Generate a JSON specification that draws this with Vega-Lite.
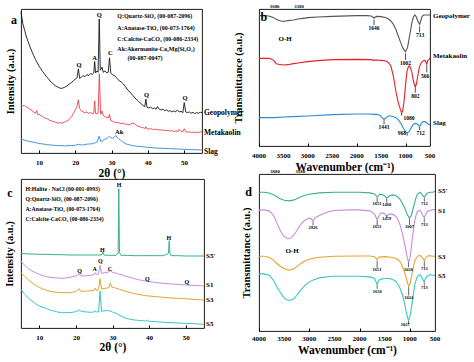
{
"$schema": "https://vega.github.io/schema/vega-lite/v6.json",
"padding": {"left": 3, "top": 3, "right": 0, "bottom": 0},
"background": "white",
"config": {
 "view": {"stroke": "#000", "strokeWidth": 0.9},
 "font": "Liberation Serif",
 "axis": {"grid": false, "domain": false, "tickColor": "#000", "labelColor": "#000", "titleColor": "#000", "labelFont": "Liberation Serif", "titleFont": "Liberation Serif", "labelFontWeight": "bold", "titleFontWeight": "bold", "labelFontSize": 7, "titleFontSize": 11, "labelAngle": 0, "labelFlush": false, "labelOverlap": false},
 "text": {"font": "Liberation Serif", "fontWeight": "bold", "color": "#000"}
},
"datasets": {
 "a": [
{"s":"G","x":5,"y":420},{"s":"G","x":5.5,"y":385},{"s":"G","x":6,"y":365},{"s":"G","x":6.5,"y":345},{"s":"G","x":7,"y":330},{"s":"G","x":7.5,"y":315},{"s":"G","x":8,"y":302},{"s":"G","x":8.5,"y":290},{"s":"G","x":9,"y":278},{"s":"G","x":9.5,"y":268},{"s":"G","x":10,"y":258},{"s":"G","x":10.5,"y":250},{"s":"G","x":11,"y":242},{"s":"G","x":11.5,"y":235},{"s":"G","x":12,"y":227},{"s":"G","x":12.5,"y":222},{"s":"G","x":13,"y":214},{"s":"G","x":13.5,"y":210},{"s":"G","x":14,"y":204},{"s":"G","x":14.5,"y":200},{"s":"G","x":15,"y":197},{"s":"G","x":15.5,"y":194},{"s":"G","x":16,"y":192},{"s":"G","x":16.5,"y":193},{"s":"G","x":17,"y":195},{"s":"G","x":17.5,"y":198},{"s":"G","x":18,"y":202},{"s":"G","x":18.5,"y":206},{"s":"G","x":19,"y":210},{"s":"G","x":19.5,"y":215},{"s":"G","x":20,"y":220},{"s":"G","x":20.5,"y":224},{"s":"G","x":20.85,"y":250},{"s":"G","x":21.2,"y":222},{"s":"G","x":21.7,"y":226},{"s":"G","x":22.2,"y":230},{"s":"G","x":22.7,"y":227},{"s":"G","x":23.2,"y":233},{"s":"G","x":23.7,"y":230},{"s":"G","x":24.2,"y":236},{"s":"G","x":24.7,"y":234},{"s":"G","x":25.1,"y":238},{"s":"G","x":25.35,"y":272},{"s":"G","x":25.6,"y":238},{"s":"G","x":26,"y":244},{"s":"G","x":26.3,"y":240},{"s":"G","x":26.62,"y":398},{"s":"G","x":26.9,"y":246},{"s":"G","x":27.4,"y":255},{"s":"G","x":27.7,"y":240},{"s":"G","x":28.2,"y":244},{"s":"G","x":28.7,"y":238},{"s":"G","x":29.1,"y":240},{"s":"G","x":29.45,"y":283},{"s":"G","x":29.8,"y":238},{"s":"G","x":30.3,"y":232},{"s":"G","x":30.8,"y":230},{"s":"G","x":31.3,"y":225},{"s":"G","x":31.8,"y":218},{"s":"G","x":32.3,"y":214},{"s":"G","x":32.8,"y":210},{"s":"G","x":33.3,"y":205},{"s":"G","x":33.8,"y":198},{"s":"G","x":34.3,"y":190},{"s":"G","x":34.8,"y":184},{"s":"G","x":35.3,"y":178},{"s":"G","x":35.8,"y":172},{"s":"G","x":36.3,"y":166},{"s":"G","x":36.8,"y":160},{"s":"G","x":37.3,"y":156},{"s":"G","x":37.8,"y":150},{"s":"G","x":38.3,"y":146},{"s":"G","x":38.8,"y":140},{"s":"G","x":39.2,"y":138},{"s":"G","x":39.5,"y":160},{"s":"G","x":39.8,"y":136},{"s":"G","x":40.3,"y":134},{"s":"G","x":40.8,"y":136},{"s":"G","x":41.3,"y":132},{"s":"G","x":41.8,"y":134},{"s":"G","x":42.3,"y":130},{"s":"G","x":42.7,"y":138},{"s":"G","x":43.2,"y":130},{"s":"G","x":43.7,"y":128},{"s":"G","x":44.2,"y":130},{"s":"G","x":44.7,"y":126},{"s":"G","x":45.2,"y":128},{"s":"G","x":45.7,"y":124},{"s":"G","x":46.2,"y":126},{"s":"G","x":46.7,"y":122},{"s":"G","x":47.2,"y":125},{"s":"G","x":47.7,"y":122},{"s":"G","x":48.2,"y":128},{"s":"G","x":48.7,"y":122},{"s":"G","x":49.2,"y":124},{"s":"G","x":49.7,"y":120},{"s":"G","x":50.1,"y":150},{"s":"G","x":50.5,"y":122},{"s":"G","x":51,"y":120},{"s":"G","x":51.5,"y":122},{"s":"G","x":52,"y":118},{"s":"G","x":52.5,"y":121},{"s":"G","x":53,"y":117},{"s":"G","x":53.5,"y":120},{"s":"G","x":54,"y":118},{"s":"G","x":54.5,"y":121},{"s":"G","x":55,"y":120},
{"s":"M","x":5,"y":142},{"s":"M","x":5.5,"y":140},{"s":"M","x":6,"y":141},{"s":"M","x":6.5,"y":137},{"s":"M","x":7,"y":134},{"s":"M","x":7.5,"y":130},{"s":"M","x":8,"y":126},{"s":"M","x":8.5,"y":122},{"s":"M","x":9,"y":118},{"s":"M","x":9.3,"y":126},{"s":"M","x":9.7,"y":114},{"s":"M","x":10,"y":115},{"s":"M","x":10.5,"y":111},{"s":"M","x":11,"y":108},{"s":"M","x":11.5,"y":104},{"s":"M","x":12,"y":103},{"s":"M","x":12.5,"y":100},{"s":"M","x":13,"y":97},{"s":"M","x":13.5,"y":95},{"s":"M","x":14,"y":93},{"s":"M","x":14.5,"y":92},{"s":"M","x":15,"y":90},{"s":"M","x":15.5,"y":89},{"s":"M","x":16,"y":90},{"s":"M","x":16.5,"y":89},{"s":"M","x":17,"y":92},{"s":"M","x":17.5,"y":94},{"s":"M","x":18,"y":97},{"s":"M","x":18.5,"y":102},{"s":"M","x":19,"y":108},{"s":"M","x":19.5,"y":118},{"s":"M","x":20,"y":128},{"s":"M","x":20.4,"y":135},{"s":"M","x":20.85,"y":158},{"s":"M","x":21.2,"y":132},{"s":"M","x":21.7,"y":125},{"s":"M","x":22.2,"y":122},{"s":"M","x":22.7,"y":120},{"s":"M","x":23.2,"y":122},{"s":"M","x":23.7,"y":118},{"s":"M","x":24.2,"y":120},{"s":"M","x":24.7,"y":117},{"s":"M","x":25.1,"y":118},{"s":"M","x":25.35,"y":155},{"s":"M","x":25.6,"y":118},{"s":"M","x":26,"y":116},{"s":"M","x":26.3,"y":118},{"s":"M","x":26.65,"y":235},{"s":"M","x":27,"y":115},{"s":"M","x":27.4,"y":125},{"s":"M","x":27.7,"y":112},{"s":"M","x":28.2,"y":108},{"s":"M","x":28.7,"y":106},{"s":"M","x":29.1,"y":104},{"s":"M","x":29.45,"y":115},{"s":"M","x":29.8,"y":96},{"s":"M","x":30.3,"y":94},{"s":"M","x":30.8,"y":92},{"s":"M","x":31.3,"y":90},{"s":"M","x":31.8,"y":91},{"s":"M","x":32.3,"y":88},{"s":"M","x":32.8,"y":87},{"s":"M","x":33.3,"y":89},{"s":"M","x":33.8,"y":85},{"s":"M","x":34.3,"y":86},{"s":"M","x":34.8,"y":84},{"s":"M","x":35.3,"y":86},{"s":"M","x":35.8,"y":89},{"s":"M","x":36.3,"y":87},{"s":"M","x":36.8,"y":83},{"s":"M","x":37.3,"y":80},{"s":"M","x":37.8,"y":78},{"s":"M","x":38.3,"y":76},{"s":"M","x":38.8,"y":75},{"s":"M","x":39.3,"y":73},{"s":"M","x":39.5,"y":78},{"s":"M","x":39.8,"y":72},{"s":"M","x":40.3,"y":71},{"s":"M","x":40.8,"y":73},{"s":"M","x":41.3,"y":70},{"s":"M","x":41.8,"y":71},{"s":"M","x":42.3,"y":69},{"s":"M","x":42.8,"y":70},{"s":"M","x":43.3,"y":68},{"s":"M","x":43.8,"y":69},{"s":"M","x":44.3,"y":67},{"s":"M","x":44.8,"y":68},{"s":"M","x":45.3,"y":66},{"s":"M","x":45.8,"y":67},{"s":"M","x":46.3,"y":65},{"s":"M","x":46.8,"y":66},{"s":"M","x":47.3,"y":64},{"s":"M","x":47.8,"y":66},{"s":"M","x":48.3,"y":63},{"s":"M","x":48.7,"y":70},{"s":"M","x":49.2,"y":64},{"s":"M","x":49.7,"y":63},{"s":"M","x":50.1,"y":72},{"s":"M","x":50.5,"y":63},{"s":"M","x":51,"y":62},{"s":"M","x":51.5,"y":63},{"s":"M","x":52,"y":61},{"s":"M","x":52.5,"y":62},{"s":"M","x":53,"y":60},{"s":"M","x":53.5,"y":62},{"s":"M","x":54,"y":61},{"s":"M","x":54.5,"y":62},{"s":"M","x":55,"y":64},
{"s":"S","x":5,"y":42},{"s":"S","x":5.5,"y":40},{"s":"S","x":6,"y":38},{"s":"S","x":7,"y":35},{"s":"S","x":8,"y":33},{"s":"S","x":9,"y":31},{"s":"S","x":10,"y":28},{"s":"S","x":11,"y":27},{"s":"S","x":12,"y":25},{"s":"S","x":13,"y":24},{"s":"S","x":14,"y":23},{"s":"S","x":15,"y":22},{"s":"S","x":16,"y":22},{"s":"S","x":17,"y":21},{"s":"S","x":18,"y":22},{"s":"S","x":19,"y":22},{"s":"S","x":20,"y":23},{"s":"S","x":20.8,"y":26},{"s":"S","x":21.5,"y":24},{"s":"S","x":22,"y":24},{"s":"S","x":23,"y":26},{"s":"S","x":24,"y":27},{"s":"S","x":25,"y":28},{"s":"S","x":25.4,"y":30},{"s":"S","x":26,"y":32},{"s":"S","x":26.6,"y":50},{"s":"S","x":27,"y":34},{"s":"S","x":27.5,"y":36},{"s":"S","x":28,"y":40},{"s":"S","x":28.5,"y":42},{"s":"S","x":29,"y":45},{"s":"S","x":29.4,"y":50},{"s":"S","x":29.8,"y":46},{"s":"S","x":30.3,"y":44},{"s":"S","x":30.8,"y":47},{"s":"S","x":31.2,"y":52},{"s":"S","x":31.6,"y":46},{"s":"S","x":32,"y":42},{"s":"S","x":32.5,"y":38},{"s":"S","x":33,"y":34},{"s":"S","x":33.5,"y":30},{"s":"S","x":34,"y":27},{"s":"S","x":35,"y":24},{"s":"S","x":36,"y":22},{"s":"S","x":37,"y":20},{"s":"S","x":38,"y":19},{"s":"S","x":39,"y":18},{"s":"S","x":40,"y":17},{"s":"S","x":42,"y":15},{"s":"S","x":44,"y":14},{"s":"S","x":46,"y":13},{"s":"S","x":48,"y":12},{"s":"S","x":50,"y":11},{"s":"S","x":52,"y":10},{"s":"S","x":55,"y":9}
 ],
 "a_t": [
{"k":"leg","x":31.6,"y":407,"t":"Q:Quartz-SiO₂ (00-087-2096)"},{"k":"leg","x":31.6,"y":372,"t":"A:Anatase-TiO₂ (00-073-1764)"},{"k":"leg","x":31.6,"y":340,"t":"C:Calcite-CaCO₃ (00-086-2334)"},{"k":"leg","x":31.6,"y":310,"t":"Ak:Akermanite-Ca₂Mg(Si₂O₇)"},{"k":"leg","x":34.4,"y":283,"t":"(00-087-0047)"},
{"k":"pk","x":26.6,"y":410,"t":"Q"},{"k":"pk","x":25.3,"y":283,"t":"A"},{"k":"pk","x":29.7,"y":297,"t":"C"},{"k":"pk","x":21,"y":263,"t":"Q"},{"k":"pk","x":39.7,"y":172,"t":"Q"},{"k":"pk","x":50.3,"y":162,"t":"Q"},{"k":"pk","x":32.1,"y":63,"t":"Ak"},
{"k":"cv","x":55,"y":120,"t":"Geopolymer"},{"k":"cv","x":55,"y":60,"t":"Metakaolin"},{"k":"cv","x":55,"y":3,"t":"Slag"},
{"k":"pn","x":3.1,"y":395,"t":"a"}
 ],
 "b": [
{"s":"G","x":4000,"y":396},{"s":"G","x":3900,"y":396},{"s":"G","x":3800,"y":395},{"s":"G","x":3750,"y":393},{"s":"G","x":3700,"y":390},{"s":"G","x":3650,"y":385},{"s":"G","x":3600,"y":382},{"s":"G","x":3550,"y":380},{"s":"G","x":3500,"y":379},{"s":"G","x":3450,"y":380},{"s":"G","x":3400,"y":381},{"s":"G","x":3300,"y":383},{"s":"G","x":3200,"y":386},{"s":"G","x":3100,"y":388},{"s":"G","x":3000,"y":390},{"s":"G","x":2800,"y":392},{"s":"G","x":2500,"y":394},{"s":"G","x":2000,"y":396},{"s":"G","x":1800,"y":396},{"s":"G","x":1700,"y":395},{"s":"G","x":1646,"y":389},{"s":"G","x":1600,"y":394},{"s":"G","x":1500,"y":393},{"s":"G","x":1400,"y":390},{"s":"G","x":1350,"y":386},{"s":"G","x":1300,"y":380},{"s":"G","x":1250,"y":370},{"s":"G","x":1200,"y":355},{"s":"G","x":1150,"y":335},{"s":"G","x":1100,"y":315},{"s":"G","x":1050,"y":297},{"s":"G","x":1002,"y":288},{"s":"G","x":960,"y":300},{"s":"G","x":930,"y":325},{"s":"G","x":900,"y":350},{"s":"G","x":870,"y":375},{"s":"G","x":840,"y":392},{"s":"G","x":810,"y":398},{"s":"G","x":780,"y":392},{"s":"G","x":750,"y":380},{"s":"G","x":713,"y":370},{"s":"G","x":690,"y":380},{"s":"G","x":660,"y":394},{"s":"G","x":630,"y":398},{"s":"G","x":580,"y":398},{"s":"G","x":500,"y":398},
{"s":"M","x":4000,"y":268},{"s":"M","x":3800,"y":268},{"s":"M","x":3750,"y":266},{"s":"M","x":3700,"y":262},{"s":"M","x":3680,"y":258},{"s":"M","x":3650,"y":252},{"s":"M","x":3600,"y":250},{"s":"M","x":3500,"y":248},{"s":"M","x":3400,"y":249},{"s":"M","x":3300,"y":252},{"s":"M","x":3200,"y":254},{"s":"M","x":3000,"y":258},{"s":"M","x":2800,"y":261},{"s":"M","x":2500,"y":264},{"s":"M","x":2000,"y":265},{"s":"M","x":1700,"y":264},{"s":"M","x":1650,"y":262},{"s":"M","x":1600,"y":263},{"s":"M","x":1500,"y":262},{"s":"M","x":1400,"y":260},{"s":"M","x":1350,"y":255},{"s":"M","x":1300,"y":245},{"s":"M","x":1250,"y":215},{"s":"M","x":1200,"y":170},{"s":"M","x":1150,"y":135},{"s":"M","x":1100,"y":112},{"s":"M","x":1080,"y":105},{"s":"M","x":1060,"y":110},{"s":"M","x":1030,"y":140},{"s":"M","x":1000,"y":190},{"s":"M","x":970,"y":230},{"s":"M","x":940,"y":244},{"s":"M","x":920,"y":245},{"s":"M","x":900,"y":240},{"s":"M","x":870,"y":225},{"s":"M","x":840,"y":200},{"s":"M","x":802,"y":182},{"s":"M","x":780,"y":190},{"s":"M","x":750,"y":215},{"s":"M","x":720,"y":240},{"s":"M","x":690,"y":252},{"s":"M","x":660,"y":258},{"s":"M","x":620,"y":262},{"s":"M","x":590,"y":260},{"s":"M","x":566,"y":250},{"s":"M","x":545,"y":262},{"s":"M","x":520,"y":264},{"s":"M","x":500,"y":270},
{"s":"S","x":4000,"y":90},{"s":"S","x":3700,"y":90},{"s":"S","x":3600,"y":91},{"s":"S","x":3500,"y":92},{"s":"S","x":3300,"y":93},{"s":"S","x":3000,"y":95},{"s":"S","x":2500,"y":99},{"s":"S","x":2000,"y":101},{"s":"S","x":1800,"y":101},{"s":"S","x":1600,"y":100},{"s":"S","x":1520,"y":97},{"s":"S","x":1480,"y":90},{"s":"S","x":1441,"y":84},{"s":"S","x":1400,"y":90},{"s":"S","x":1350,"y":95},{"s":"S","x":1300,"y":95},{"s":"S","x":1250,"y":93},{"s":"S","x":1200,"y":90},{"s":"S","x":1150,"y":84},{"s":"S","x":1100,"y":74},{"s":"S","x":1050,"y":60},{"s":"S","x":1000,"y":48},{"s":"S","x":968,"y":44},{"s":"S","x":930,"y":48},{"s":"S","x":900,"y":55},{"s":"S","x":860,"y":66},{"s":"S","x":820,"y":72},{"s":"S","x":780,"y":72},{"s":"S","x":740,"y":68},{"s":"S","x":712,"y":64},{"s":"S","x":680,"y":72},{"s":"S","x":640,"y":78},{"s":"S","x":600,"y":78},{"s":"S","x":560,"y":74},{"s":"S","x":530,"y":70},{"s":"S","x":500,"y":68}
 ],
 "b_t": [
{"k":"pk","x":1646,"y":360,"t":"1646"},{"k":"pk","x":703,"y":338,"t":"713"},{"k":"pk","x":1002,"y":255,"t":"1002"},{"k":"pk","x":600,"y":216,"t":"566"},{"k":"pk","x":800,"y":155,"t":"802"},{"k":"pk","x":930,"y":88,"t":"1080"},{"k":"pk","x":1441,"y":62,"t":"1441"},{"k":"pk","x":1075,"y":43,"t":"968"},{"k":"pk","x":690,"y":45,"t":"712"},
{"k":"oh","x":3465,"y":325,"t":"O-H"},
{"k":"cv","x":500,"y":395,"t":"Geopolymer"},{"k":"cv","x":500,"y":275,"t":"Metakaolin"},{"k":"cv","x":500,"y":75,"t":"Slag"},
{"k":"pn","x":3900,"y":392,"t":"b"}
 ],
 "b_ar": [
{"x":1646,"y":368,"y2":384},{"x":713,"y":346,"y2":364},{"x":1002,"y":263,"y2":283},{"x":566,"y":226,"y2":246},{"x":802,"y":165,"y2":180},{"x":1080,"y":96,"y2":104},{"x":1441,"y":70,"y2":82},{"x":968,"y":36,"y2":43},{"x":712,"y":53,"y2":62}
 ],
 "top": [{"x":3680,"t":"3680"},{"x":3180,"t":"3180"}],
 "ticks": [{"x":4000,"t":"4000"},{"x":3500,"t":"3500"},{"x":3000,"t":"3000"},{"x":2500,"t":"2500"},{"x":2000,"t":"2000"},{"x":1500,"t":"1500"},{"x":1000,"t":"1000"},{"x":500,"t":"500"}],
 "c": [
{"s":"S5'","x":5,"y":224},{"s":"S5'","x":6,"y":223},{"s":"S5'","x":8,"y":222},{"s":"S5'","x":10,"y":221},{"s":"S5'","x":12,"y":221},{"s":"S5'","x":14,"y":220},{"s":"S5'","x":16,"y":220},{"s":"S5'","x":18,"y":219},{"s":"S5'","x":20,"y":219},{"s":"S5'","x":22,"y":219},{"s":"S5'","x":24,"y":219},{"s":"S5'","x":26,"y":219},{"s":"S5'","x":27,"y":219},{"s":"S5'","x":27.35,"y":228},{"s":"S5'","x":27.7,"y":219},{"s":"S5'","x":29,"y":218},{"s":"S5'","x":31,"y":218},{"s":"S5'","x":31.55,"y":226},{"s":"S5'","x":31.72,"y":418},{"s":"S5'","x":31.9,"y":226},{"s":"S5'","x":32.3,"y":218},{"s":"S5'","x":34,"y":218},{"s":"S5'","x":36,"y":217},{"s":"S5'","x":38,"y":217},{"s":"S5'","x":40,"y":217},{"s":"S5'","x":42,"y":217},{"s":"S5'","x":44,"y":217},{"s":"S5'","x":45.3,"y":224},{"s":"S5'","x":45.5,"y":262},{"s":"S5'","x":45.7,"y":224},{"s":"S5'","x":46,"y":217},{"s":"S5'","x":48,"y":217},{"s":"S5'","x":50,"y":216},{"s":"S5'","x":52,"y":216},{"s":"S5'","x":55,"y":216},
{"s":"S1","x":5,"y":201},{"s":"S1","x":5.5,"y":194},{"s":"S1","x":6,"y":188},{"s":"S1","x":7,"y":178},{"s":"S1","x":8,"y":171},{"s":"S1","x":9,"y":166},{"s":"S1","x":10,"y":161},{"s":"S1","x":11,"y":157},{"s":"S1","x":12,"y":154},{"s":"S1","x":13,"y":152},{"s":"S1","x":14,"y":151},{"s":"S1","x":15,"y":150},{"s":"S1","x":16,"y":149},{"s":"S1","x":17,"y":150},{"s":"S1","x":18,"y":151},{"s":"S1","x":19,"y":154},{"s":"S1","x":20,"y":156},{"s":"S1","x":20.5,"y":158},{"s":"S1","x":20.9,"y":164},{"s":"S1","x":21.3,"y":156},{"s":"S1","x":22,"y":156},{"s":"S1","x":23,"y":157},{"s":"S1","x":24,"y":158},{"s":"S1","x":25,"y":160},{"s":"S1","x":25.3,"y":166},{"s":"S1","x":25.6,"y":160},{"s":"S1","x":26.2,"y":162},{"s":"S1","x":26.6,"y":188},{"s":"S1","x":27,"y":164},{"s":"S1","x":28,"y":166},{"s":"S1","x":29,"y":168},{"s":"S1","x":29.4,"y":174},{"s":"S1","x":29.8,"y":168},{"s":"S1","x":30.5,"y":166},{"s":"S1","x":31,"y":164},{"s":"S1","x":32,"y":161},{"s":"S1","x":33,"y":158},{"s":"S1","x":34,"y":154},{"s":"S1","x":35,"y":151},{"s":"S1","x":36,"y":148},{"s":"S1","x":37,"y":145},{"s":"S1","x":38,"y":143},{"s":"S1","x":39,"y":141},{"s":"S1","x":40,"y":139},{"s":"S1","x":41,"y":138},{"s":"S1","x":42,"y":136},{"s":"S1","x":44,"y":134},{"s":"S1","x":46,"y":132},{"s":"S1","x":48,"y":131},{"s":"S1","x":50,"y":129},{"s":"S1","x":52,"y":128},{"s":"S1","x":55,"y":126},
{"s":"S3","x":5,"y":166},{"s":"S3","x":5.5,"y":160},{"s":"S3","x":6,"y":155},{"s":"S3","x":7,"y":145},{"s":"S3","x":8,"y":136},{"s":"S3","x":9,"y":128},{"s":"S3","x":10,"y":122},{"s":"S3","x":11,"y":117},{"s":"S3","x":12,"y":113},{"s":"S3","x":13,"y":110},{"s":"S3","x":14,"y":108},{"s":"S3","x":15,"y":107},{"s":"S3","x":16,"y":106},{"s":"S3","x":17,"y":106},{"s":"S3","x":18,"y":106},{"s":"S3","x":19,"y":107},{"s":"S3","x":20,"y":109},{"s":"S3","x":20.9,"y":118},{"s":"S3","x":21.3,"y":110},{"s":"S3","x":22,"y":110},{"s":"S3","x":23,"y":111},{"s":"S3","x":24,"y":112},{"s":"S3","x":25,"y":113},{"s":"S3","x":25.3,"y":120},{"s":"S3","x":25.6,"y":113},{"s":"S3","x":26.2,"y":115},{"s":"S3","x":26.6,"y":148},{"s":"S3","x":27,"y":117},{"s":"S3","x":28,"y":119},{"s":"S3","x":29,"y":121},{"s":"S3","x":29.4,"y":135},{"s":"S3","x":29.8,"y":123},{"s":"S3","x":30.5,"y":121},{"s":"S3","x":31,"y":119},{"s":"S3","x":32,"y":116},{"s":"S3","x":33,"y":112},{"s":"S3","x":34,"y":109},{"s":"S3","x":35,"y":106},{"s":"S3","x":36,"y":103},{"s":"S3","x":37,"y":101},{"s":"S3","x":38,"y":99},{"s":"S3","x":39,"y":97},{"s":"S3","x":40,"y":96},{"s":"S3","x":42,"y":94},{"s":"S3","x":44,"y":92},{"s":"S3","x":46,"y":90},{"s":"S3","x":48,"y":89},{"s":"S3","x":50,"y":88},{"s":"S3","x":52,"y":86},{"s":"S3","x":55,"y":84},
{"s":"S5","x":5,"y":116},{"s":"S5","x":5.5,"y":108},{"s":"S5","x":6,"y":101},{"s":"S5","x":7,"y":90},{"s":"S5","x":8,"y":81},{"s":"S5","x":9,"y":73},{"s":"S5","x":10,"y":66},{"s":"S5","x":11,"y":62},{"s":"S5","x":12,"y":58},{"s":"S5","x":13,"y":54},{"s":"S5","x":14,"y":51},{"s":"S5","x":15,"y":48},{"s":"S5","x":16,"y":46},{"s":"S5","x":17,"y":46},{"s":"S5","x":18,"y":46},{"s":"S5","x":19,"y":47},{"s":"S5","x":20,"y":49},{"s":"S5","x":20.9,"y":54},{"s":"S5","x":21.3,"y":51},{"s":"S5","x":22,"y":49},{"s":"S5","x":23,"y":48},{"s":"S5","x":24,"y":47},{"s":"S5","x":25,"y":48},{"s":"S5","x":25.3,"y":52},{"s":"S5","x":25.6,"y":48},{"s":"S5","x":26.2,"y":48},{"s":"S5","x":26.6,"y":111},{"s":"S5","x":27,"y":50},{"s":"S5","x":28,"y":52},{"s":"S5","x":29,"y":52},{"s":"S5","x":29.5,"y":51},{"s":"S5","x":30,"y":48},{"s":"S5","x":31,"y":44},{"s":"S5","x":32,"y":38},{"s":"S5","x":33,"y":32},{"s":"S5","x":34,"y":28},{"s":"S5","x":35,"y":26},{"s":"S5","x":36,"y":24},{"s":"S5","x":37,"y":23},{"s":"S5","x":38,"y":22},{"s":"S5","x":39,"y":21},{"s":"S5","x":39.5,"y":24},{"s":"S5","x":40,"y":20},{"s":"S5","x":42,"y":19},{"s":"S5","x":44,"y":17},{"s":"S5","x":46,"y":16},{"s":"S5","x":48,"y":15},{"s":"S5","x":50,"y":14},{"s":"S5","x":52,"y":13},{"s":"S5","x":55,"y":11}
 ],
 "c_t": [
{"k":"leg","x":6.2,"y":416,"t":"H:Halite - NaCl (00-001-0993)"},{"k":"leg","x":6.2,"y":388,"t":"Q:Quartz-SiO₂ (00-087-2096)"},{"k":"leg","x":6.2,"y":357,"t":"A:Anatase-TiO₂ (00-073-1764)"},{"k":"leg","x":6.2,"y":328,"t":"C:Calcite-CaCO₃ (00-086-2334)"},
{"k":"pk","x":27.2,"y":234,"t":"H"},{"k":"pk","x":31.8,"y":428,"t":"H"},{"k":"pk","x":45.4,"y":270,"t":"H"},{"k":"pk","x":21,"y":171,"t":"Q"},{"k":"pk","x":25.1,"y":177,"t":"A"},{"k":"pk","x":26.7,"y":200,"t":"Q"},{"k":"pk","x":29.3,"y":178,"t":"C"},{"k":"pk","x":39.5,"y":147,"t":"Q"},{"k":"pk","x":50.3,"y":139,"t":"Q"},
{"k":"cv","x":55,"y":216,"t":"S5'"},{"k":"cv","x":55,"y":128,"t":"S1"},{"k":"cv","x":55,"y":83,"t":"S3"},{"k":"cv","x":55,"y":11,"t":"S5"},
{"k":"pn","x":2,"y":405,"t":"c"}
 ],
 "d": [
{"s":"S5'","x":4000,"y":418},{"s":"S5'","x":3900,"y":418},{"s":"S5'","x":3800,"y":416},{"s":"S5'","x":3750,"y":413},{"s":"S5'","x":3700,"y":410},{"s":"S5'","x":3650,"y":405},{"s":"S5'","x":3600,"y":400},{"s":"S5'","x":3500,"y":394},{"s":"S5'","x":3400,"y":392},{"s":"S5'","x":3300,"y":395},{"s":"S5'","x":3200,"y":402},{"s":"S5'","x":3100,"y":408},{"s":"S5'","x":3000,"y":412},{"s":"S5'","x":2800,"y":416},{"s":"S5'","x":2500,"y":418},{"s":"S5'","x":2000,"y":418},{"s":"S5'","x":1800,"y":416},{"s":"S5'","x":1700,"y":413},{"s":"S5'","x":1651,"y":403},{"s":"S5'","x":1600,"y":412},{"s":"S5'","x":1550,"y":411},{"s":"S5'","x":1500,"y":407},{"s":"S5'","x":1460,"y":400},{"s":"S5'","x":1420,"y":406},{"s":"S5'","x":1350,"y":410},{"s":"S5'","x":1300,"y":409},{"s":"S5'","x":1250,"y":405},{"s":"S5'","x":1200,"y":398},{"s":"S5'","x":1150,"y":385},{"s":"S5'","x":1100,"y":370},{"s":"S5'","x":1050,"y":350},{"s":"S5'","x":1007,"y":340},{"s":"S5'","x":970,"y":348},{"s":"S5'","x":950,"y":360},{"s":"S5'","x":900,"y":390},{"s":"S5'","x":870,"y":405},{"s":"S5'","x":850,"y":412},{"s":"S5'","x":800,"y":418},{"s":"S5'","x":770,"y":414},{"s":"S5'","x":740,"y":407},{"s":"S5'","x":712,"y":403},{"s":"S5'","x":680,"y":410},{"s":"S5'","x":650,"y":416},{"s":"S5'","x":600,"y":418},{"s":"S5'","x":550,"y":418},{"s":"S5'","x":500,"y":420},
{"s":"S1","x":4000,"y":365},{"s":"S1","x":3900,"y":365},{"s":"S1","x":3800,"y":362},{"s":"S1","x":3750,"y":355},{"s":"S1","x":3700,"y":345},{"s":"S1","x":3650,"y":328},{"s":"S1","x":3600,"y":310},{"s":"S1","x":3550,"y":295},{"s":"S1","x":3500,"y":285},{"s":"S1","x":3450,"y":280},{"s":"S1","x":3400,"y":278},{"s":"S1","x":3350,"y":282},{"s":"S1","x":3300,"y":290},{"s":"S1","x":3250,"y":302},{"s":"S1","x":3200,"y":315},{"s":"S1","x":3150,"y":325},{"s":"S1","x":3100,"y":332},{"s":"S1","x":3050,"y":337},{"s":"S1","x":3000,"y":340},{"s":"S1","x":2960,"y":338},{"s":"S1","x":2926,"y":330},{"s":"S1","x":2890,"y":340},{"s":"S1","x":2850,"y":344},{"s":"S1","x":2800,"y":348},{"s":"S1","x":2700,"y":355},{"s":"S1","x":2600,"y":360},{"s":"S1","x":2500,"y":363},{"s":"S1","x":2200,"y":365},{"s":"S1","x":2000,"y":365},{"s":"S1","x":1800,"y":362},{"s":"S1","x":1750,"y":358},{"s":"S1","x":1700,"y":352},{"s":"S1","x":1651,"y":335},{"s":"S1","x":1620,"y":345},{"s":"S1","x":1580,"y":355},{"s":"S1","x":1520,"y":356},{"s":"S1","x":1459,"y":345},{"s":"S1","x":1420,"y":352},{"s":"S1","x":1350,"y":352},{"s":"S1","x":1300,"y":348},{"s":"S1","x":1250,"y":340},{"s":"S1","x":1200,"y":322},{"s":"S1","x":1150,"y":295},{"s":"S1","x":1100,"y":260},{"s":"S1","x":1070,"y":235},{"s":"S1","x":1050,"y":220},{"s":"S1","x":1026,"y":208},{"s":"S1","x":1000,"y":218},{"s":"S1","x":980,"y":240},{"s":"S1","x":950,"y":280},{"s":"S1","x":920,"y":315},{"s":"S1","x":900,"y":335},{"s":"S1","x":870,"y":352},{"s":"S1","x":850,"y":360},{"s":"S1","x":800,"y":364},{"s":"S1","x":770,"y":358},{"s":"S1","x":740,"y":348},{"s":"S1","x":713,"y":340},{"s":"S1","x":690,"y":350},{"s":"S1","x":650,"y":360},{"s":"S1","x":600,"y":364},{"s":"S1","x":550,"y":365},{"s":"S1","x":500,"y":367},
{"s":"S3","x":4000,"y":225},{"s":"S3","x":3900,"y":225},{"s":"S3","x":3800,"y":222},{"s":"S3","x":3750,"y":218},{"s":"S3","x":3700,"y":212},{"s":"S3","x":3650,"y":204},{"s":"S3","x":3600,"y":198},{"s":"S3","x":3550,"y":192},{"s":"S3","x":3500,"y":188},{"s":"S3","x":3450,"y":185},{"s":"S3","x":3400,"y":184},{"s":"S3","x":3350,"y":185},{"s":"S3","x":3300,"y":188},{"s":"S3","x":3250,"y":194},{"s":"S3","x":3200,"y":200},{"s":"S3","x":3150,"y":205},{"s":"S3","x":3100,"y":210},{"s":"S3","x":3000,"y":216},{"s":"S3","x":2900,"y":220},{"s":"S3","x":2800,"y":222},{"s":"S3","x":2500,"y":225},{"s":"S3","x":2000,"y":226},{"s":"S3","x":1800,"y":226},{"s":"S3","x":1700,"y":224},{"s":"S3","x":1651,"y":215},{"s":"S3","x":1610,"y":223},{"s":"S3","x":1500,"y":224},{"s":"S3","x":1400,"y":223},{"s":"S3","x":1300,"y":220},{"s":"S3","x":1250,"y":216},{"s":"S3","x":1200,"y":210},{"s":"S3","x":1150,"y":195},{"s":"S3","x":1100,"y":175},{"s":"S3","x":1070,"y":158},{"s":"S3","x":1050,"y":148},{"s":"S3","x":1024,"y":135},{"s":"S3","x":1000,"y":140},{"s":"S3","x":970,"y":160},{"s":"S3","x":950,"y":180},{"s":"S3","x":920,"y":200},{"s":"S3","x":900,"y":212},{"s":"S3","x":850,"y":225},{"s":"S3","x":800,"y":228},{"s":"S3","x":760,"y":222},{"s":"S3","x":713,"y":212},{"s":"S3","x":680,"y":220},{"s":"S3","x":650,"y":226},{"s":"S3","x":600,"y":227},{"s":"S3","x":550,"y":225},{"s":"S3","x":500,"y":225},
{"s":"S5","x":4000,"y":172},{"s":"S5","x":3900,"y":172},{"s":"S5","x":3800,"y":168},{"s":"S5","x":3750,"y":160},{"s":"S5","x":3700,"y":150},{"s":"S5","x":3650,"y":135},{"s":"S5","x":3600,"y":122},{"s":"S5","x":3550,"y":110},{"s":"S5","x":3500,"y":100},{"s":"S5","x":3450,"y":94},{"s":"S5","x":3400,"y":92},{"s":"S5","x":3350,"y":94},{"s":"S5","x":3300,"y":98},{"s":"S5","x":3250,"y":107},{"s":"S5","x":3200,"y":118},{"s":"S5","x":3150,"y":127},{"s":"S5","x":3100,"y":135},{"s":"S5","x":3050,"y":142},{"s":"S5","x":3000,"y":148},{"s":"S5","x":2900,"y":155},{"s":"S5","x":2800,"y":160},{"s":"S5","x":2600,"y":164},{"s":"S5","x":2500,"y":165},{"s":"S5","x":2000,"y":165},{"s":"S5","x":1800,"y":163},{"s":"S5","x":1700,"y":158},{"s":"S5","x":1650,"y":140},{"s":"S5","x":1610,"y":154},{"s":"S5","x":1550,"y":157},{"s":"S5","x":1500,"y":158},{"s":"S5","x":1400,"y":158},{"s":"S5","x":1300,"y":152},{"s":"S5","x":1250,"y":144},{"s":"S5","x":1200,"y":130},{"s":"S5","x":1150,"y":110},{"s":"S5","x":1100,"y":80},{"s":"S5","x":1070,"y":55},{"s":"S5","x":1050,"y":43},{"s":"S5","x":1027,"y":32},{"s":"S5","x":1000,"y":42},{"s":"S5","x":980,"y":60},{"s":"S5","x":950,"y":90},{"s":"S5","x":920,"y":120},{"s":"S5","x":900,"y":140},{"s":"S5","x":870,"y":157},{"s":"S5","x":850,"y":164},{"s":"S5","x":800,"y":170},{"s":"S5","x":770,"y":164},{"s":"S5","x":740,"y":154},{"s":"S5","x":715,"y":148},{"s":"S5","x":690,"y":158},{"s":"S5","x":650,"y":166},{"s":"S5","x":600,"y":170},{"s":"S5","x":550,"y":168},{"s":"S5","x":500,"y":168}
 ],
 "d_t": [
{"k":"pk","x":1651,"y":382,"t":"1651"},{"k":"pk","x":1460,"y":380,"t":"1460"},{"k":"pk","x":712,"y":384,"t":"712"},
{"k":"pk","x":1651,"y":312,"t":"1651"},{"k":"pk","x":1459,"y":336,"t":"1459"},{"k":"pk","x":1007,"y":313,"t":"1007"},{"k":"pk","x":713,"y":320,"t":"713"},{"k":"pk","x":2926,"y":311,"t":"2926"},
{"k":"pk","x":1651,"y":183,"t":"1651"},{"k":"pk","x":1026,"y":185,"t":"1026"},{"k":"pk","x":713,"y":186,"t":"713"},
{"k":"pk","x":1650,"y":119,"t":"1650"},{"k":"pk","x":713,"y":130,"t":"713"},{"k":"pk","x":1024,"y":100,"t":"1024"},{"k":"pk","x":1090,"y":18,"t":"1027"},
{"k":"oh","x":3344,"y":240,"t":"O-H"},
{"k":"cv","x":500,"y":422,"t":"S5'"},{"k":"cv","x":500,"y":362,"t":"S1"},{"k":"cv","x":500,"y":222,"t":"S3"},{"k":"cv","x":500,"y":165,"t":"S5"},
{"k":"pn","x":4205,"y":420,"t":"d"}
 ],
 "d_ar": [
{"x":1651,"y":388,"y2":401},{"x":1460,"y":386,"y2":398},{"x":712,"y":390,"y2":401},
{"x":1651,"y":318,"y2":333},{"x":1459,"y":342,"y2":349},{"x":1007,"y":320,"y2":337},{"x":713,"y":327,"y2":338},{"x":2926,"y":318,"y2":328},
{"x":1651,"y":190,"y2":212},{"x":1026,"y":192,"y2":206},{"x":713,"y":193,"y2":210},
{"x":1650,"y":127,"y2":138},{"x":713,"y":137,"y2":146},{"x":1024,"y":107,"y2":132},{"x":1027,"y":20,"y2":30}
 ]
},
"bounds": "full",
"spacing": -13,
"resolve": {"scale": {"color": "independent", "x": "independent", "y": "independent"}},
"hconcat": [
 {"bounds": "full", "spacing": -4,
  "resolve": {"scale": {"color": "independent", "x": "independent", "y": "independent"}},
  "vconcat": [
  {"width": 181, "height": 144,
   "layer": [
    {"data": {"name": "a"}, "mark": {"type": "line", "strokeWidth": 0.9},
     "encoding": {
      "x": {"field": "x", "type": "quantitative", "scale": {"domain": [5, 55], "nice": false, "zero": false}, "axis": {"title": "2θ (°)", "values": [10, 20, 30, 40, 50], "labelOverlap": false, "tickSize": -3, "labelPadding": 8, "titlePadding": 2, "titleFontSize": 11.5}},
      "y": {"field": "y", "type": "quantitative", "scale": {"domain": [0, 428], "nice": false, "zero": false}, "axis": {"title": "Intensity (a.u.)", "labels": false, "ticks": false, "titlePadding": 6, "titleFontSize": 10.5}},
      "color": {"field": "s", "type": "nominal", "scale": {"domain": ["G", "M", "S"], "range": ["#151515", "#e8404a", "#3189d4"]}, "legend": null}}},
    {"data": {"name": "a_t"}, "transform": [{"filter": "datum.k == 'leg'"}], "mark": {"type": "text", "align": "left", "baseline": "middle", "fontSize": 6},
     "encoding": {"x": {"field": "x", "type": "quantitative"}, "y": {"field": "y", "type": "quantitative"}, "text": {"field": "t"}}},
    {"data": {"name": "a_t"}, "transform": [{"filter": "datum.k == 'pk'"}], "mark": {"type": "text", "align": "center", "baseline": "middle", "fontSize": 6.5},
     "encoding": {"x": {"field": "x", "type": "quantitative"}, "y": {"field": "y", "type": "quantitative"}, "text": {"field": "t"}}},
    {"data": {"name": "a_t"}, "transform": [{"filter": "datum.k == 'cv'"}], "mark": {"type": "text", "align": "left", "baseline": "middle", "fontSize": 7.5, "dx": 2},
     "encoding": {"x": {"field": "x", "type": "quantitative"}, "y": {"field": "y", "type": "quantitative"}, "text": {"field": "t"}}},
    {"data": {"name": "a_t"}, "transform": [{"filter": "datum.k == 'pn'"}], "mark": {"type": "text", "align": "center", "baseline": "middle", "fontSize": 12},
     "encoding": {"x": {"field": "x", "type": "quantitative"}, "y": {"field": "y", "type": "quantitative"}, "text": {"field": "t"}}}
   ]},
  {"width": 183, "height": 149,
   "layer": [
    {"data": {"name": "c"}, "mark": {"type": "line", "strokeWidth": 1},
     "encoding": {
      "x": {"field": "x", "type": "quantitative", "scale": {"domain": [5, 55], "nice": false, "zero": false}, "axis": {"title": "2θ (°)", "values": [10, 20, 30, 40, 50], "labelOverlap": false, "tickSize": -3, "labelPadding": 8, "titlePadding": 1, "titleFontSize": 11.5}},
      "y": {"field": "y", "type": "quantitative", "scale": {"domain": [0, 447], "nice": false, "zero": false}, "axis": {"title": "Intensity (a.u.)", "labels": false, "ticks": false, "titlePadding": 7, "titleFontSize": 10.5}},
      "color": {"field": "s", "type": "nominal", "scale": {"domain": ["S5'", "S1", "S3", "S5"], "range": ["#3aae8c", "#c58ddc", "#e2a530", "#38c6c6"]}, "legend": null}}},
    {"data": {"name": "c_t"}, "transform": [{"filter": "datum.k == 'leg'"}], "mark": {"type": "text", "align": "left", "baseline": "middle", "fontSize": 5.8},
     "encoding": {"x": {"field": "x", "type": "quantitative"}, "y": {"field": "y", "type": "quantitative"}, "text": {"field": "t"}}},
    {"data": {"name": "c_t"}, "transform": [{"filter": "datum.k == 'pk'"}], "mark": {"type": "text", "align": "center", "baseline": "middle", "fontSize": 6},
     "encoding": {"x": {"field": "x", "type": "quantitative"}, "y": {"field": "y", "type": "quantitative"}, "text": {"field": "t"}}},
    {"data": {"name": "c_t"}, "transform": [{"filter": "datum.k == 'cv'"}], "mark": {"type": "text", "align": "left", "baseline": "middle", "fontSize": 7, "dx": 2},
     "encoding": {"x": {"field": "x", "type": "quantitative"}, "y": {"field": "y", "type": "quantitative"}, "text": {"field": "t"}}},
    {"data": {"name": "c_t"}, "transform": [{"filter": "datum.k == 'pn'"}], "mark": {"type": "text", "align": "center", "baseline": "middle", "fontSize": 12},
     "encoding": {"x": {"field": "x", "type": "quantitative"}, "y": {"field": "y", "type": "quantitative"}, "text": {"field": "t"}}}
   ]}
 ]},
 {"bounds": "full", "spacing": -16,
  "resolve": {"scale": {"color": "independent", "x": "independent", "y": "independent"}},
  "vconcat": [
  {"width": 171, "height": 137,
   "layer": [
    {"mark": {"type": "rule", "color": "#cccccc", "strokeWidth": 1.2}, "encoding": {"x": {"datum": 3680, "type": "quantitative"}}},
    {"mark": {"type": "rule", "color": "#aaaaaa", "strokeWidth": 1, "strokeDash": [2, 1]}, "encoding": {"x": {"datum": 3180, "type": "quantitative"}}},
    {"data": {"name": "b"}, "mark": {"type": "line", "strokeWidth": 1.1},
     "encoding": {
      "x": {"field": "x", "type": "quantitative", "scale": {"domain": [4000, 500], "nice": false, "zero": false}, "axis": {"title": "Wavenumber (cm⁻¹)", "values": [4000, 3500, 3000, 2500, 2000, 1500, 1000, 500], "labels": false, "tickSize": -3, "titlePadding": 15, "titleFontSize": 11.5}},
      "y": {"field": "y", "type": "quantitative", "scale": {"domain": [5, 416], "nice": false, "zero": false}, "axis": {"title": "Transmittance (a.u.)", "labels": false, "ticks": false, "titlePadding": 16, "titleFontSize": 10.5}},
      "color": {"field": "s", "type": "nominal", "scale": {"domain": ["G", "M", "S"], "range": ["#555555", "#ec1c24", "#2d8ad6"]}, "legend": null}}},
    {"data": {"name": "b_ar"}, "mark": {"type": "rule", "color": "#000", "strokeWidth": 0.7},
     "encoding": {"x": {"field": "x", "type": "quantitative"}, "y": {"field": "y", "type": "quantitative"}, "y2": {"field": "y2"}}},
    {"data": {"name": "ticks"}, "mark": {"type": "text", "align": "center", "baseline": "top", "fontSize": 7, "dy": 6},
     "encoding": {"x": {"field": "x", "type": "quantitative"}, "y": {"datum": 5, "type": "quantitative"}, "text": {"field": "t"}}},
    {"data": {"name": "top"}, "mark": {"type": "text", "align": "center", "baseline": "bottom", "fontSize": 4.8, "dy": 0},
     "encoding": {"x": {"field": "x", "type": "quantitative"}, "y": {"datum": 416, "type": "quantitative"}, "text": {"field": "t"}}},
    {"data": {"name": "b_t"}, "transform": [{"filter": "datum.k == 'pk'"}], "mark": {"type": "text", "align": "center", "baseline": "middle", "fontSize": 5.5},
     "encoding": {"x": {"field": "x", "type": "quantitative"}, "y": {"field": "y", "type": "quantitative"}, "text": {"field": "t"}}},
    {"data": {"name": "b_t"}, "transform": [{"filter": "datum.k == 'oh'"}], "mark": {"type": "text", "align": "center", "baseline": "middle", "fontSize": 7},
     "encoding": {"x": {"field": "x", "type": "quantitative"}, "y": {"field": "y", "type": "quantitative"}, "text": {"field": "t"}}},
    {"data": {"name": "b_t"}, "transform": [{"filter": "datum.k == 'cv'"}], "mark": {"type": "text", "align": "left", "baseline": "middle", "fontSize": 7, "dx": 3},
     "encoding": {"x": {"field": "x", "type": "quantitative"}, "y": {"field": "y", "type": "quantitative"}, "text": {"field": "t"}}},
    {"data": {"name": "b_t"}, "transform": [{"filter": "datum.k == 'pn'"}], "mark": {"type": "text", "align": "center", "baseline": "middle", "fontSize": 12},
     "encoding": {"x": {"field": "x", "type": "quantitative"}, "y": {"field": "y", "type": "quantitative"}, "text": {"field": "t"}}}
   ]},
  {"width": 176, "height": 157,
   "layer": [
    {"mark": {"type": "rule", "color": "#d0d0d0", "strokeWidth": 1.2}, "encoding": {"x": {"datum": 3680, "type": "quantitative"}}},
    {"mark": {"type": "rule", "color": "#777777", "strokeWidth": 1, "strokeDash": [3, 1]}, "encoding": {"x": {"datum": 3180, "type": "quantitative"}}},
    {"data": {"name": "d"}, "mark": {"type": "line", "strokeWidth": 1.1},
     "encoding": {
      "x": {"field": "x", "type": "quantitative", "scale": {"domain": [4000, 500], "nice": false, "zero": false}, "axis": {"title": "Wavenumber (cm⁻¹)", "values": [4000, 3500, 3000, 2500, 2000, 1500, 1000, 500], "labels": false, "tickSize": -3, "titlePadding": 13, "titleFontSize": 11.5}},
      "y": {"field": "y", "type": "quantitative", "scale": {"domain": [0, 473], "nice": false, "zero": false}, "axis": {"title": "Transmittance (a.u.)", "labels": false, "ticks": false, "titlePadding": 8, "titleFontSize": 10.5}},
      "color": {"field": "s", "type": "nominal", "scale": {"domain": ["S5'", "S1", "S3", "S5"], "range": ["#3aae8c", "#c58ddc", "#e2a530", "#38c6c6"]}, "legend": null}}},
    {"data": {"name": "d_ar"}, "mark": {"type": "rule", "color": "#000", "strokeWidth": 0.6},
     "encoding": {"x": {"field": "x", "type": "quantitative"}, "y": {"field": "y", "type": "quantitative"}, "y2": {"field": "y2"}}},
    {"data": {"name": "ticks"}, "mark": {"type": "text", "align": "center", "baseline": "top", "fontSize": 7, "dy": 4},
     "encoding": {"x": {"field": "x", "type": "quantitative"}, "y": {"datum": 0, "type": "quantitative"}, "text": {"field": "t"}}},
    {"data": {"name": "top"}, "mark": {"type": "text", "align": "center", "baseline": "bottom", "fontSize": 4.8, "dy": 0},
     "encoding": {"x": {"field": "x", "type": "quantitative"}, "y": {"datum": 473, "type": "quantitative"}, "text": {"field": "t"}}},
    {"data": {"name": "d_t"}, "transform": [{"filter": "datum.k == 'pk'"}], "mark": {"type": "text", "align": "center", "baseline": "middle", "fontSize": 4.5},
     "encoding": {"x": {"field": "x", "type": "quantitative"}, "y": {"field": "y", "type": "quantitative"}, "text": {"field": "t"}}},
    {"data": {"name": "d_t"}, "transform": [{"filter": "datum.k == 'oh'"}], "mark": {"type": "text", "align": "center", "baseline": "middle", "fontSize": 7},
     "encoding": {"x": {"field": "x", "type": "quantitative"}, "y": {"field": "y", "type": "quantitative"}, "text": {"field": "t"}}},
    {"data": {"name": "d_t"}, "transform": [{"filter": "datum.k == 'cv'"}], "mark": {"type": "text", "align": "left", "baseline": "middle", "fontSize": 7, "dx": 3},
     "encoding": {"x": {"field": "x", "type": "quantitative"}, "y": {"field": "y", "type": "quantitative"}, "text": {"field": "t"}}},
    {"data": {"name": "d_t"}, "transform": [{"filter": "datum.k == 'pn'"}], "mark": {"type": "text", "align": "center", "baseline": "middle", "fontSize": 12},
     "encoding": {"x": {"field": "x", "type": "quantitative"}, "y": {"field": "y", "type": "quantitative"}, "text": {"field": "t"}}}
   ]}
 ]}
]
}
